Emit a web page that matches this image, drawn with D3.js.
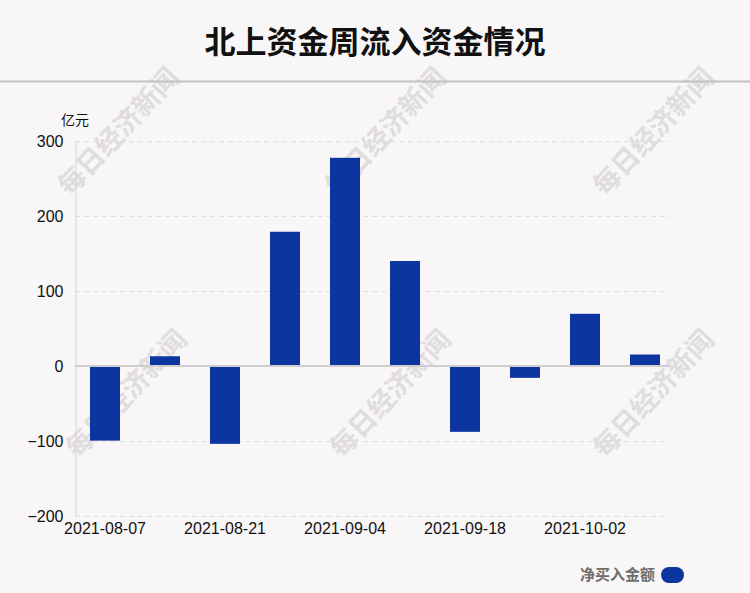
<!DOCTYPE html>
<html><head><meta charset="utf-8">
<script src="https://cdn.jsdelivr.net/npm/d3@7"></script>
<style>
html,body{margin:0;padding:0;background:#f9f6f7;}
svg{display:block;font-family:"Liberation Sans",Arial,sans-serif;}
</style></head>
<body>
<svg id="c" width="750" height="593"></svg>
<script>
const categories = ["2021-08-07","2021-08-14","2021-08-21","2021-08-28","2021-09-04","2021-09-11","2021-09-18","2021-09-25","2021-10-02","2021-10-09"];
const netBuy = [-99.5, 13, -103.8, 179, 277.6, 140, -87.8, -15.8, 69.6, 15.3];
const yTicks = [-200, -100, 0, 100, 200, 300];
const xTickLabels = ["2021-08-07","2021-08-21","2021-09-04","2021-09-18","2021-10-02"];
const title = "北上资金周流入资金情况";
const unitLabel = "亿元";
const legendLabel = "净买入金额";
const watermark = "每日经济新闻";

const svg = d3.select("#c");
svg.append("rect").attr("width",750).attr("height",593).attr("fill","#f9f6f7");

const x = d3.scaleBand().domain(categories).range([75,675]).paddingInner(0.5).paddingOuter(0.25);
const y = d3.scaleLinear().domain([-200,300]).range([516,141]);

// watermarks
const wmPos = [[120,133],[387,133],[655,133],[128,395],[392,395],[655,395]];
wmPos.forEach(p=>{
  svg.append("text").attr("transform",`translate(${p[0]},${p[1]}) rotate(-47)`)
    .attr("text-anchor","middle").attr("dominant-baseline","middle")
    .attr("font-family","'Noto Sans CJK SC'").attr("font-weight","bold")
    .attr("font-size",27).attr("fill","#e0dddE").text(watermark);
});

// title
svg.append("text").attr("x",375).attr("y",53).attr("text-anchor","middle")
  .attr("font-family","'Noto Sans CJK SC'").attr("font-weight","bold")
  .attr("font-size",31).attr("fill","#111").text(title);
svg.append("line").attr("x1",0).attr("x2",750).attr("y1",81.5).attr("y2",81.5)
  .attr("stroke","#c3c1c2").attr("stroke-width",2);

// grid
svg.append("g").selectAll("line").data(yTicks.filter(d=>d!==0)).join("line")
  .attr("x1",75).attr("x2",670).attr("y1",d=>Math.round(y(d))+0.5).attr("y2",d=>Math.round(y(d))+0.5)
  .attr("stroke","#e2dfe0").attr("stroke-dasharray","5,4");

// y axis
const yAxis = svg.append("g").attr("transform","translate(75.5,0)")
  .call(d3.axisLeft(y).tickValues(yTicks).tickSize(0).tickPadding(12));
yAxis.select(".domain").attr("stroke","#d6d3d4");
yAxis.selectAll("text").attr("font-size",16).attr("fill","#111").attr("font-family","'Liberation Sans',Arial,sans-serif");

svg.append("text").attr("x",61).attr("y",125).attr("font-family","'Noto Sans CJK SC'")
  .attr("font-size",14).attr("fill","#111").text(unitLabel);

// bars
svg.append("g").selectAll("rect").data(netBuy).join("rect")
  .attr("x",(d,i)=>x(categories[i])).attr("width",x.bandwidth())
  .attr("y",d=>y(Math.max(0,d))).attr("height",d=>Math.abs(y(d)-y(0)))
  .attr("fill","#0d35a0");

// zero line
svg.append("line").attr("x1",75).attr("x2",670).attr("y1",y(0)).attr("y2",y(0))
  .attr("stroke","#d0cdce").attr("stroke-width",2);

// x axis
const xAxis = svg.append("g").attr("transform",`translate(0,${y(-200)})`)
  .call(d3.axisBottom(x).tickValues(xTickLabels).tickSize(0).tickPadding(7));
xAxis.select(".domain").remove();
xAxis.selectAll("text").attr("font-size",16).attr("fill","#111").attr("font-family","'Liberation Sans',Arial,sans-serif");

// legend
svg.append("text").attr("x",655).attr("y",580).attr("text-anchor","end")
  .attr("font-family","'Noto Sans CJK SC'").attr("font-weight","bold")
  .attr("font-size",15).attr("fill","#6e6c6d").text(legendLabel);
svg.append("rect").attr("x",661).attr("y",567).attr("width",23).attr("height",16)
  .attr("rx",8).attr("ry",8).attr("fill","#0d35a0");
</script>
</body></html>
